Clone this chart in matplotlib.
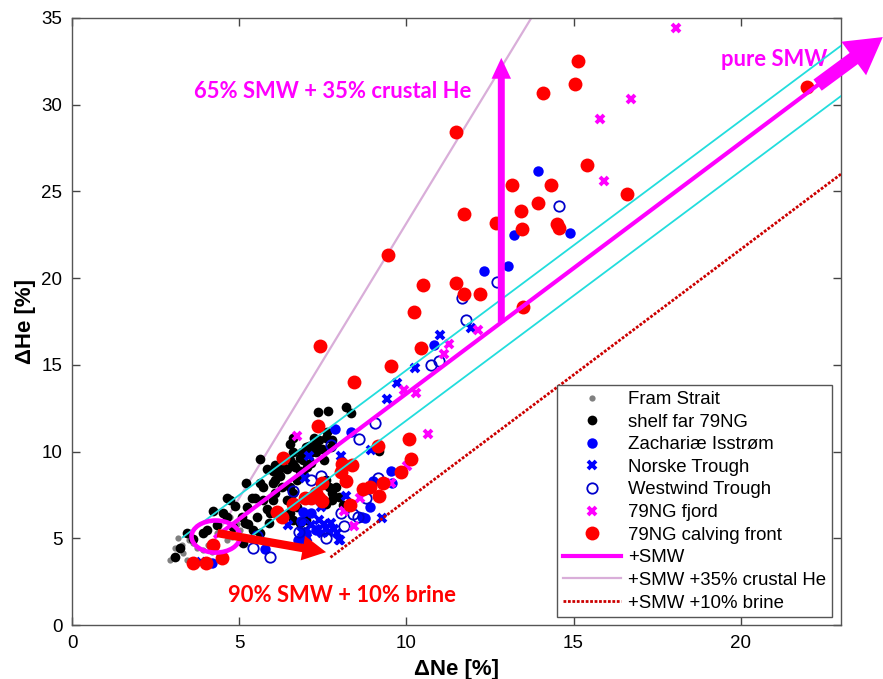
import numpy as np
import matplotlib
matplotlib.use('Agg')
import matplotlib.pyplot as plt
from matplotlib.patches import Ellipse

plt.rcParams['font.family'] = ['Liberation Sans', 'DejaVu Sans']

# ---------------- data (dNe %, dHe %) ----------------
fram_ne = [3.16, 3.07, 3.01, 3.31, 3.61, 3.73, 3.91, 4.06, 4.80, 5.01, 4.93, 4.72, 3.28, 3.43, 2.93, 4.63, 4.33, 4.87, 3.50, 4.20]
fram_he = [5.00, 4.45, 3.90, 4.15, 4.70, 4.45, 4.30, 4.60, 5.05, 5.45, 5.85, 6.20, 4.60, 3.75, 3.75, 4.90, 5.30, 6.80, 4.90, 4.20]

shelf_ne = [7.37, 7.67, 8.21, 8.33, 5.61, 5.19, 4.63, 4.72, 4.21, 4.51, 4.87, 5.22, 5.07, 5.25, 5.40, 5.61, 5.10,
            3.43, 3.61, 3.22, 3.07, 3.91, 4.03, 5.37, 5.70, 6.00, 6.21, 6.42, 6.60, 6.81, 6.87, 6.60, 6.21, 6.00,
            5.82, 5.61, 5.46, 5.70, 5.82, 6.00, 6.42, 6.51, 6.60, 6.72, 6.90, 7.04, 7.16, 7.31, 7.40, 7.25, 7.61,
            7.79, 7.49, 7.19, 7.01, 6.60, 6.51, 7.70, 7.79, 7.79, 7.91, 7.61, 6.72, 6.51, 6.60, 6.81, 7.01, 7.61,
            9.19, 5.16, 5.88, 5.91, 5.52, 4.63, 4.33, 4.81, 6.06, 6.27, 7.64, 7.10, 6.51, 6.90, 6.66, 6.81, 6.30,
            6.06, 6.15, 6.06, 7.55, 7.31, 7.76, 8.00, 8.10]
shelf_he = [12.30, 12.35, 12.55, 12.25, 9.55, 8.20, 7.35, 7.20, 6.60, 6.45, 6.85, 6.80, 6.20, 5.80, 5.45, 5.30, 4.75,
            5.30, 4.95, 4.45, 3.90, 5.30, 5.45, 7.35, 7.95, 8.20, 8.60, 9.00, 9.30, 9.65, 9.95, 9.95, 9.10, 8.90,
            9.00, 8.20, 7.35, 7.20, 6.70, 7.20, 7.20, 7.95, 7.60, 8.35, 8.75, 9.10, 9.35, 10.45, 10.65, 10.80, 10.80,
            10.65, 10.15, 9.95, 10.25, 10.80, 10.45, 7.95, 7.60, 7.20, 7.95, 8.35, 6.80, 6.45, 6.05, 5.90, 6.05, 7.00,
            10.05, 5.90, 5.90, 6.45, 6.20, 6.20, 5.75, 5.65, 7.60, 7.95, 11.10, 10.35, 9.50, 9.50, 9.10, 8.90, 9.10,
            9.20, 8.80, 8.35, 9.50, 9.95, 10.25, 7.40, 6.90]

zach_ne = [13.94, 13.22, 14.90, 13.04, 12.33, 10.84, 7.88, 8.33, 9.55, 9.01, 9.58, 8.90, 8.66, 8.75, 6.90, 7.16,
           6.75, 7.01, 5.76, 4.18, 6.85, 7.30, 7.00]
zach_he = [26.15, 22.50, 22.60, 20.70, 20.40, 16.15, 11.30, 11.10, 8.90, 8.33, 8.20, 6.80, 6.20, 6.15, 6.50, 6.45,
           4.90, 4.90, 4.40, 3.60, 6.00, 5.50, 5.30]

norske_ne = [11.00, 11.94, 10.27, 9.73, 9.43, 8.93, 8.06, 7.10, 8.21, 6.45, 9.28, 8.03, 6.96, 7.46, 7.40, 7.55,
             7.76, 7.85, 7.70, 7.49, 7.31, 7.16, 7.94, 8.00, 7.61, 6.87, 6.90, 7.04, 3.85]
norske_he = [16.70, 17.10, 14.80, 13.95, 13.05, 10.10, 9.75, 9.75, 7.45, 5.75, 6.15, 4.90, 8.50, 6.80, 6.05, 5.85,
             5.90, 5.55, 5.35, 5.30, 5.55, 5.75, 5.30, 4.90, 5.55, 5.35, 5.05, 5.00, 3.65]

westwind_ne = [14.57, 12.72, 11.67, 11.79, 10.75, 10.99, 9.07, 8.57, 7.76, 6.60, 7.46, 7.16, 9.16, 8.80, 8.06,
               8.39, 8.54, 8.15, 6.78, 5.40, 5.91, 5.52, 6.90, 7.60]
westwind_he = [24.15, 19.75, 18.85, 17.60, 15.00, 15.20, 11.65, 10.75, 10.40, 7.70, 8.60, 8.35, 8.50, 7.35, 6.45,
               6.40, 6.20, 5.70, 5.35, 4.45, 3.90, 5.15, 5.90, 5.00]

fjord_ne = [18.06, 16.72, 15.79, 15.90, 12.15, 11.28, 11.13, 9.94, 10.30, 6.72, 10.66, 10.03, 9.55, 8.60, 8.15, 8.42]
fjord_he = [34.40, 30.35, 29.20, 25.60, 17.00, 16.20, 15.60, 13.55, 13.40, 10.90, 11.00, 9.15, 8.20, 7.35, 6.55, 5.70]

calving_ne = [11.49, 15.13, 15.04, 14.09, 21.97, 15.40, 16.60, 13.16, 14.33, 13.94, 13.43, 13.46, 14.50, 14.57,
              12.69, 11.73, 11.73, 12.20, 11.49, 13.49, 9.46, 10.50, 10.24, 10.45, 9.55, 8.42, 7.43, 7.37, 6.30,
              9.16, 10.09, 10.15, 9.85, 9.31, 9.19, 8.90, 8.69, 8.09, 8.36, 8.21, 8.06, 8.30, 7.49, 7.31, 7.16,
              7.40, 7.49, 6.96, 6.60, 6.12, 6.27, 4.21, 4.48, 3.61, 4.00]
calving_he = [28.45, 32.50, 31.20, 30.70, 31.00, 26.55, 24.85, 25.35, 25.35, 24.35, 23.90, 22.85, 23.15, 22.90,
              23.20, 23.70, 19.10, 19.10, 19.70, 18.35, 21.35, 19.60, 18.05, 15.95, 14.95, 14.00, 16.10, 11.45, 9.65,
              10.35, 10.75, 9.55, 8.80, 8.20, 7.45, 7.95, 7.85, 9.30, 9.20, 8.30, 8.80, 6.90, 8.20, 7.60, 7.30,
              7.35, 7.15, 7.30, 7.00, 6.50, 6.20, 4.60, 3.85, 3.55, 3.55]

# mixing lines (start / end points)
smw_line = ([4.30, 22.40], [5.10, 31.27])
smw_upper = ([3.31, 23.00], [5.06, 33.40])
smw_lower = ([5.40, 23.00], [5.17, 30.50])
crustal_line = ([4.30, 13.80], [5.10, 35.20])
brine_line = ([7.73, 23.00], [3.90, 26.00])

# ---------------- plot ----------------
fig = plt.figure(figsize=(8.83, 6.79), dpi=100)
ax = fig.add_axes([72/883, 54/679, 769/883, 607/679])

ax.plot(crustal_line[0], crustal_line[1], color='#d9aed9', lw=1.6, zorder=1,
        label='+SMW +35% crustal He')

ax.plot(fram_ne, fram_he, 'o', color='#808080', ms=4.5, mew=0, ls='none', zorder=2, label='Fram Strait')
ax.plot(shelf_ne, shelf_he, 'o', color='black', ms=7, mew=0, ls='none', zorder=2, label='shelf far 79NG')
ax.plot(zach_ne, zach_he, 'o', color='#0000ff', ms=7.5, mew=0, ls='none', zorder=3, label='Zachariæ Isstrøm')
ax.plot(norske_ne, norske_he, 'x', color='#0000ff', ms=6, mew=2.8, ls='none', zorder=3, label='Norske Trough')
ax.plot(westwind_ne, westwind_he, 'o', mfc='none', mec='#0000cc', ms=7.5, mew=1.3, ls='none', zorder=3,
        label='Westwind Trough')
ax.plot(fjord_ne, fjord_he, 'x', color='#ff00ff', ms=6, mew=2.8, ls='none', zorder=3, label='79NG fjord')
ax.plot(calving_ne, calving_he, 'o', color='#ff0000', ms=10, mew=0, ls='none', zorder=3,
        label='79NG calving front')

ax.plot(smw_upper[0], smw_upper[1], color='#22dddd', lw=1.3, zorder=4)
ax.plot(smw_lower[0], smw_lower[1], color='#22dddd', lw=1.3, zorder=4)
ax.plot(smw_line[0], smw_line[1], color='#ff00ff', lw=3, zorder=5, label='+SMW')
ax.plot(brine_line[0], brine_line[1], color='#cc0000', lw=2, ls=(0, (1, 0.6)), zorder=4,
        label='+SMW +10% brine')

# arrows + ellipse
ax.add_patch(Ellipse((4.30, 5.10), 1.45, 1.85, fill=False, ec='#ff00ff', lw=3.3, zorder=6))
ax.annotate('', xy=(12.84, 32.7), xytext=(12.84, 17.45), zorder=6,
            arrowprops=dict(arrowstyle='simple,head_width=1.4,head_length=1.5,tail_width=0.5',
                            mutation_scale=10, color='#ff00ff', lw=0, shrinkA=0, shrinkB=0))
ax.annotate('', xy=(4.35 + 3.25, 4.2), xytext=(4.35, 5.3), zorder=6,
            arrowprops=dict(arrowstyle='simple,head_width=1.8,head_length=1.7,tail_width=0.6',
                            mutation_scale=10, color='#ff0000', lw=0, shrinkA=0, shrinkB=0))
ax.annotate('', xy=(24.25, 33.9), xytext=(22.3, 31.13), zorder=6, annotation_clip=False,
            arrowprops=dict(arrowstyle='simple,head_width=3.0,head_length=2.6,tail_width=1.0',
                            mutation_scale=10, color='#ff00ff', lw=0, shrinkA=0, shrinkB=0, clip_on=False))

ax.text(7.79, 30.75, '65% SMW + 35% crustal He', color='#ff00ff', fontsize=15.8, fontweight='bold',
        family='Lato', ha='center', va='center')
ax.text(21.0, 32.6, 'pure SMW', color='#ff00ff', fontsize=15.8, fontweight='bold',
        family='Lato', ha='center', va='center')
ax.text(8.09, 1.72, '90% SMW + 10% brine', color='#ff0000', fontsize=15.8, fontweight='bold',
        family='Lato', ha='center', va='center')

ax.set_xlim(0, 23)
ax.set_ylim(0, 35)
ax.set_xticks([0, 5, 10, 15, 20])
ax.set_yticks([0, 5, 10, 15, 20, 25, 30, 35])
ax.tick_params(direction='in', top=True, right=True, length=6, width=1, labelsize=13.5, pad=7,
               color='#444444')
for s in ax.spines.values():
    s.set_color('#555555')
    s.set_linewidth(1)
ax.set_xlabel('ΔNe [%]', fontsize=16, fontweight='bold', labelpad=5)
ax.set_ylabel('ΔHe [%]', fontsize=16, fontweight='bold', labelpad=4)

order = ['Fram Strait', 'shelf far 79NG', 'Zachariæ Isstrøm', 'Norske Trough', 'Westwind Trough',
         '79NG fjord', '79NG calving front', '+SMW', '+SMW +35% crustal He', '+SMW +10% brine']
h, l = ax.get_legend_handles_labels()
hd = dict(zip(l, h))
leg = ax.legend([hd[k] for k in order], order, loc='lower right', bbox_to_anchor=(0.988, 0.013),
                borderaxespad=0, fontsize=13.4, numpoints=1, handlelength=3.1, labelspacing=0.3,
                borderpad=0.3, handletextpad=0.4, fancybox=False, framealpha=1, edgecolor='#555555')
leg.get_frame().set_linewidth(1)
leg.set_zorder(10)

plt.savefig('out.png', dpi=100)
